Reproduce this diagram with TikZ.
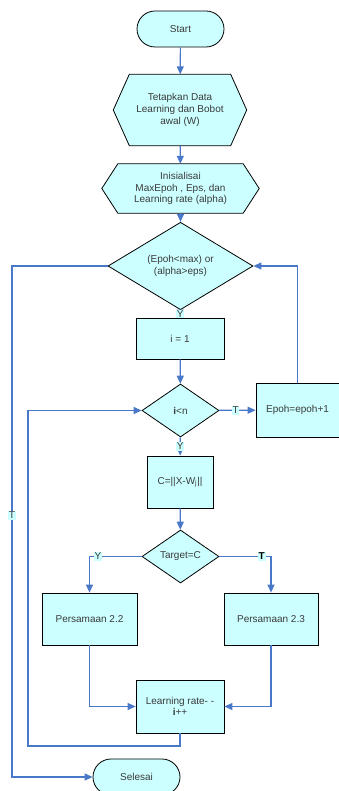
\documentclass[tikz,border=0pt]{standalone}
\usepackage{fontspec}
\setmainfont{Liberation Sans}
\usetikzlibrary{shapes.geometric,shapes.misc,arrows.meta,backgrounds}
\definecolor{fillc}{HTML}{CCFFFF}
\definecolor{linec}{HTML}{4A78C8}
\definecolor{txt}{HTML}{3A3A3A}
\begin{document}
\begin{tikzpicture}[x=1pt,y=-1pt,
  base/.style={draw=black, line width=0.8pt, fill=fillc, text=txt,
    font=\fontsize{10}{11.7}\selectfont, align=center, inner sep=0pt},
  term/.style={base, rounded rectangle, minimum width=87pt, minimum height=36pt},
  procbox/.style={base, rectangle, minimum width=#1, minimum height=52pt},
  dec/.style={base, diamond, minimum width=77pt, minimum height=53pt},
  hexnode/.style={rectangle, inner sep=0pt, text=txt, align=center,
    font=\fontsize{10}{11.7}\selectfont},
  hexline/.style={draw=black, line width=0.8pt, fill=fillc},
  conn/.style={draw=linec, line width=1.2pt},
  arr/.style={conn, -{Triangle[length=8pt,width=7pt]}},
  lbl/.style={fill=fillc, inner sep=0.8pt, text=txt, font=\fontsize{10}{11}\selectfont}
]
\useasboundingbox (0,0) rectangle (339,791);

\node[term] (start) at (180.5,29) {Start};

\node[hexnode, minimum width=133pt, minimum height=71pt] (h1) at (180,110)
  {Tetapkan Data\\Learning dan Bobot\\awal (W)};
\node[hexnode, minimum width=157pt, minimum height=49pt] (h2) at (180.5,188.5)
  {Inisialisai\\MaxEpoh , Eps, dan\\Learning rate (alpha)};
\begin{scope}[on background layer]
\draw[hexline] (h1.west) -- ([xshift=16pt]h1.north west) -- ([xshift=-16pt]h1.north east)
  -- (h1.east) -- ([xshift=-16pt]h1.south east) -- ([xshift=16pt]h1.south west) -- cycle;
\draw[hexline] (h2.west) -- ([xshift=16pt]h2.north west) -- ([xshift=-16pt]h2.north east)
  -- (h2.east) -- ([xshift=-16pt]h2.south east) -- ([xshift=16pt]h2.south west) -- cycle;
\end{scope}

\node[dec, minimum width=145pt, minimum height=52pt] (d1) at (180.5,266)
  {(Epoh<max) or\\(alpha>eps)};
\node[procbox=88pt, minimum height=41pt] (b1) at (180,338.5) {i = 1};
\node[dec] (d2) at (180.5,410.5) {\textbf{i}<n};
\node[procbox=83pt, minimum height=54pt] (ep) at (297.5,410) {Epoh=epoh+1};
\node[procbox=66pt] (cb) at (180,482) {C=||X-W\textsubscript{j}||};
\node[dec] (d3) at (180.5,556.5) {Target=C};
\node[procbox=95pt] (p22) at (89.5,619) {Persamaan 2.2};
\node[procbox=94pt] (p23) at (271,619) {Persamaan 2.3};
\node[procbox=88pt, minimum height=53pt] (lr) at (180,706.5) {Learning rate- -\\\textbf{i}++};
\node[term] (sel) at (136.5,777) {Selesai};

\coordinate (lx) at (12,266);
\coordinate (lp) at (28,746);

\draw[arr] (start) -- (h1);
\draw[arr] (h1) -- (h2);
\draw[arr] (h2) -- (d1);
\draw[arr] (d1) -- node[lbl, pos=0.5]{Y} (b1);
\draw[arr] (b1) -- (d2);
\draw[arr] (d2) -- node[lbl, pos=0.45]{T} (ep);
\draw[arr] (ep.north) |- (d1.east);
\draw[arr] (d1.west) -- (lx) |- node[lbl, pos=0.244]{T} (sel.west);
\draw[arr] (d2) -- node[lbl, pos=0.5]{Y} (cb);
\draw[arr] (cb) -- (d3);
\draw[arr] (d3.west) -| node[lbl, pos=0.42]{Y} (p22.north);
\draw[arr] (d3.east) -| node[lbl, pos=0.41, text=black]{\textbf{T}} (p23.north);
\draw[arr] (p22.south) |- (lr.west);
\draw[arr] (p23.south) |- (lr.east);
\draw[arr] (lr.south) |- (lp) |- (d2.west);
\end{tikzpicture}
\end{document}
